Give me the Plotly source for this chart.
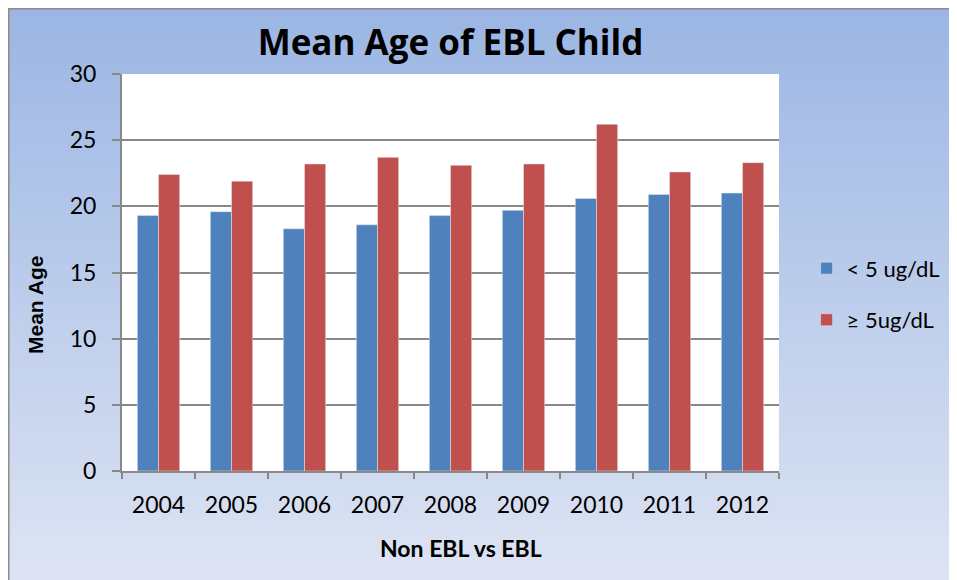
import plotly.graph_objects as go

# Data
years = ["2004", "2005", "2006", "2007", "2008", "2009", "2010", "2011", "2012"]
below_5 = [19.3, 19.6, 18.3, 18.6, 19.3, 19.7, 20.6, 20.9, 21.0]
above_5 = [22.4, 21.9, 23.2, 23.7, 23.1, 23.2, 26.2, 22.6, 23.3]
y_ticks = [0, 5, 10, 15, 20, 25, 30]

# page shows the figure offset by the body margin (8px), so compensate here
W, H = 957, 580
L, T = 114, 66
pw, ph = 657, 397
R = W - L - pw
B = H - T - ph

fnt = "Lato, 'Open Sans', sans-serif"

fig = go.Figure()
fig.add_trace(go.Bar(x=years, y=below_5, name="< 5 ug/dL", marker_color="#4F81BD",
                     legendgroup="a"))
fig.add_trace(go.Bar(x=years, y=above_5, name="≥ 5ug/dL", marker_color="#C0504D",
                     legendgroup="b"))

def px_x(p):
    return (p - L) / pw

def px_y(p):
    return (H - B - p) / ph

# gradient chart background as thin bands
top_c = (155, 182, 228)
bot_c = (223, 229, 244)
n = 70
shapes = []
for i in range(n):
    f0 = i / n
    f1 = (i + 1) / n
    c = tuple(int(top_c[k] + (bot_c[k] - top_c[k]) * (f0 + 0.5 / n)) for k in range(3))
    shapes.append(dict(type="rect", xref="paper", yref="paper", layer="below",
                       x0=px_x(0), x1=px_x(W),
                       y0=px_y(f0 * H), y1=px_y(f1 * H + 1),
                       line_width=0, fillcolor="rgb(%d,%d,%d)" % c))
# outer border
shapes.append(dict(type="rect", xref="paper", yref="paper", layer="below",
                   x0=px_x(0.8), x1=px_x(W + 5), y0=px_y(H + 5), y1=px_y(0.8),
                   line=dict(color="#8C8C8C", width=1.5), fillcolor="rgba(0,0,0,0)"))
# white plot area
shapes.append(dict(type="rect", xref="paper", yref="paper", layer="below",
                   x0=0, x1=1, y0=0, y1=1, line_width=0, fillcolor="white"))

# axis titles placed as annotations
annotations = [
    dict(text="<b>Non EBL vs EBL</b>", xref="paper", yref="paper",
         x=px_x(453), y=px_y(540), showarrow=False, xanchor="center", yanchor="middle",
         font=dict(family=fnt, size=23, color="black")),
    dict(text="<b>Mean Age</b>", xref="paper", yref="paper", textangle=-90,
         x=px_x(27), y=px_y(297), showarrow=False, xanchor="center", yanchor="middle",
         font=dict(family="'Liberation Sans', Arial, sans-serif", size=21, color="black")),
]

fig.update_layout(
    width=W, height=H,
    margin=dict(l=L, r=R, t=T, b=B),
    paper_bgcolor="white",
    plot_bgcolor="white",
    shapes=shapes,
    annotations=annotations,
    barmode="group",
    bargap=0.42,
    bargroupgap=0,
    title=dict(text="<b>Mean Age of EBL Child</b>", x=0.5, xref="paper",
               y=1 - 35 / H, yref="container", yanchor="middle", xanchor="center",
               font=dict(family="'Open Sans', Lato, sans-serif", size=35, color="black")),
    font=dict(family=fnt, size=22, color="black"),
    legend=dict(x=1.042, xanchor="left", y=0.445, yanchor="middle",
                bgcolor="rgba(0,0,0,0)", tracegroupgap=20,
                font=dict(family=fnt, size=22, color="black")),
    xaxis=dict(
        showline=True, linecolor="#888888", linewidth=2,
        ticks="outside", tickson="boundaries", ticklen=6, tickcolor="#888888",
        tickwidth=2, tickfont=dict(size=23), showgrid=False, ticklabelstandoff=12,
    ),
    yaxis=dict(
        range=[0, 30], tickvals=y_ticks,
        showline=True, linecolor="#888888", linewidth=2,
        ticks="outside", ticklen=8, tickcolor="#888888", tickwidth=2,
        showgrid=True, gridcolor="#888888", gridwidth=2,
        zeroline=False, tickfont=dict(size=23), ticklabelstandoff=11,
    ),
)

fig.write_html("out.html")
